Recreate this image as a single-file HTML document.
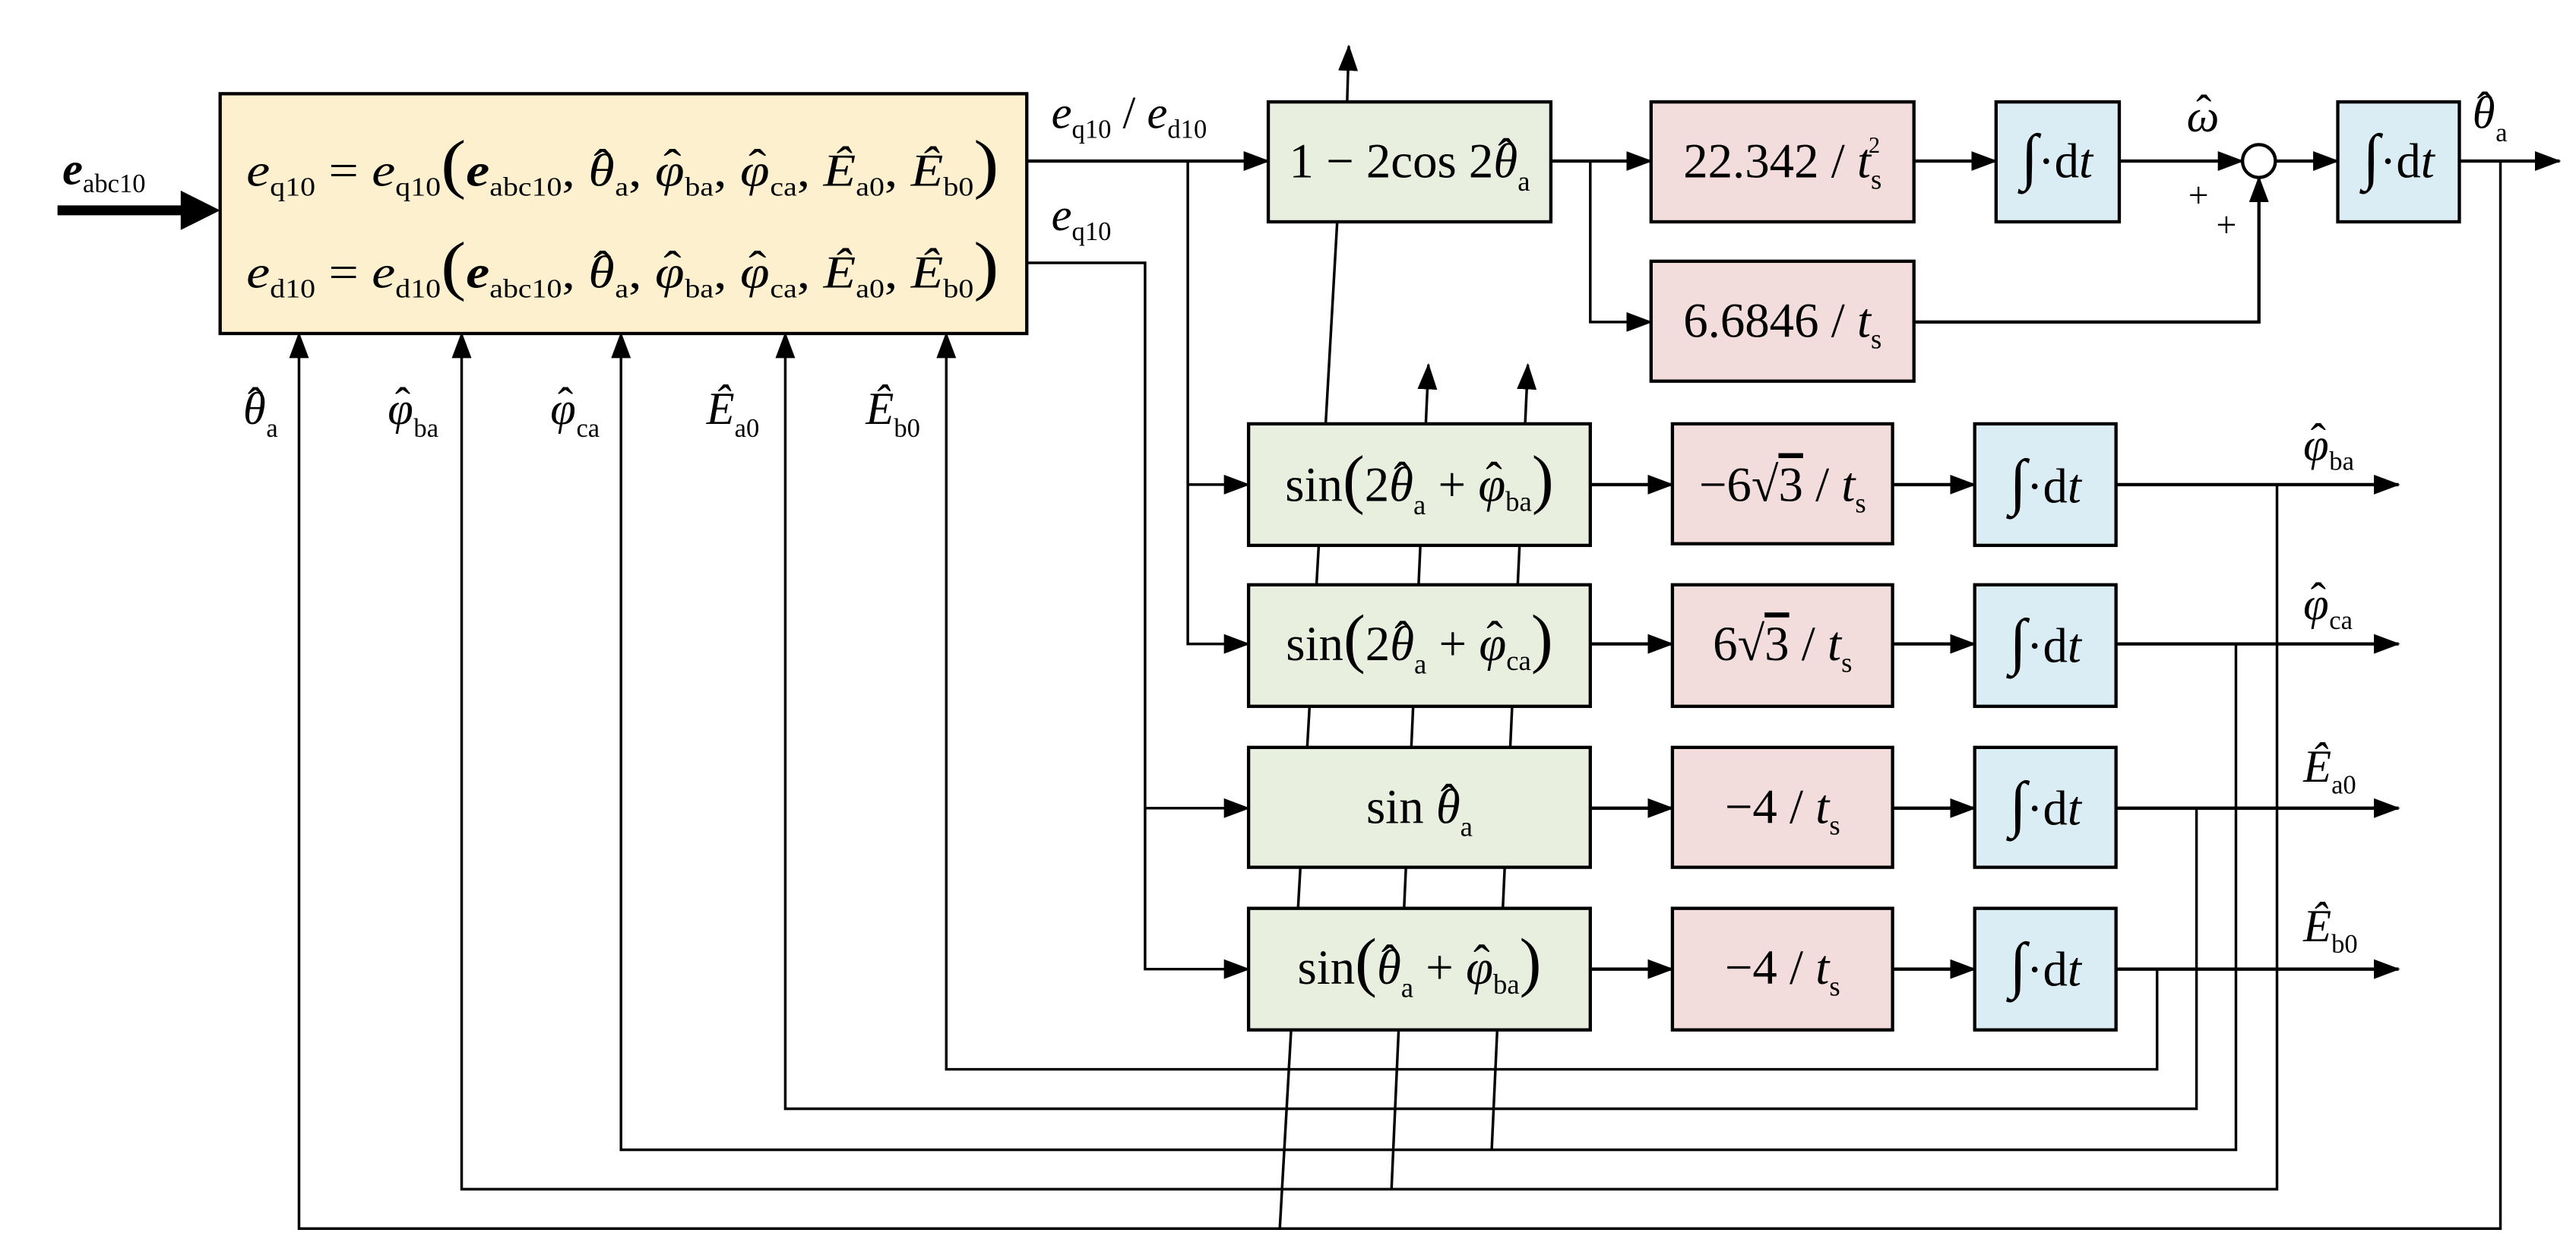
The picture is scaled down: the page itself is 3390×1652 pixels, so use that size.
<!DOCTYPE html>
<html><head><meta charset="utf-8"><style>
html,body{margin:0;padding:0;background:#fff;}
svg{display:block;}
text{font-family:"Liberation Serif",serif;fill:#000;}
.i{font-style:italic;}
</style></head><body>
<svg width="3390" height="1652" viewBox="0 0 1568 764" xmlns="http://www.w3.org/2000/svg">
<defs>
<marker id="a" markerWidth="16" markerHeight="12" refX="15" refY="6" orient="auto" markerUnits="userSpaceOnUse">
<path d="M0,0 L16,6 L0,12 Z" fill="#000"/></marker>
</defs>
<g stroke="#000" fill="none" stroke-width="1.6">
<line x1="35" y1="128" x2="112" y2="128" stroke-width="6"/>
<path d="M110,116 L134,128 L110,140 Z" fill="#000" stroke="none"/>
<line x1="625" y1="98" x2="772" y2="98" stroke-width="2" marker-end="url(#a)"/>
<polyline points="625,160 697,160 697,590 760,590" marker-end="url(#a)"/>
<line x1="697" y1="492" x2="760" y2="492" marker-end="url(#a)"/>
<polyline points="723,98 723,392 760,392" marker-end="url(#a)"/>
<line x1="723" y1="295" x2="760" y2="295" marker-end="url(#a)"/>
<line x1="944" y1="98" x2="1005" y2="98" stroke-width="2" marker-end="url(#a)"/>
<polyline points="968,98 968,196 1005,196" marker-end="url(#a)"/>
<line x1="1165" y1="98" x2="1215" y2="98" stroke-width="2" marker-end="url(#a)"/>
<line x1="1290" y1="98" x2="1365" y2="98" stroke-width="2" marker-end="url(#a)"/>
<polyline points="1165,196 1375,196 1375,108" stroke-width="2" marker-end="url(#a)"/>
<circle cx="1375" cy="98" r="10" fill="#fff" stroke-width="2"/>
<line x1="1385" y1="98" x2="1423" y2="98" stroke-width="2" marker-end="url(#a)"/>
<line x1="1497" y1="98" x2="1558" y2="98" stroke-width="2" marker-end="url(#a)"/>
<polyline points="1522,98 1522,748 182,748 182,203" marker-end="url(#a)"/>
<polyline points="1386,295 1386,724 281,724 281,203" marker-end="url(#a)"/>
<polyline points="1361,392 1361,700 378,700 378,203" marker-end="url(#a)"/>
<polyline points="1337,492 1337,675 478,675 478,203" marker-end="url(#a)"/>
<polyline points="1313,590 1313,651 576,651 576,203" marker-end="url(#a)"/>
<line x1="779" y1="748" x2="814" y2="134"/>
<line x1="847" y1="724" x2="869.5" y2="222" marker-end="url(#a)"/>
<line x1="908" y1="700" x2="930" y2="222" marker-end="url(#a)"/>
<line x1="820" y1="62" x2="821" y2="28" marker-end="url(#a)"/>
<g stroke-width="2">
<line x1="968" y1="295" x2="1018" y2="295" marker-end="url(#a)"/>
<line x1="968" y1="392" x2="1018" y2="392" marker-end="url(#a)"/>
<line x1="968" y1="492" x2="1018" y2="492" marker-end="url(#a)"/>
<line x1="968" y1="590" x2="1018" y2="590" marker-end="url(#a)"/>
<line x1="1152" y1="295" x2="1202" y2="295" marker-end="url(#a)"/>
<line x1="1152" y1="392" x2="1202" y2="392" marker-end="url(#a)"/>
<line x1="1152" y1="492" x2="1202" y2="492" marker-end="url(#a)"/>
<line x1="1152" y1="590" x2="1202" y2="590" marker-end="url(#a)"/>
<line x1="1288" y1="295" x2="1460" y2="295" marker-end="url(#a)"/>
<line x1="1288" y1="392" x2="1460" y2="392" marker-end="url(#a)"/>
<line x1="1288" y1="492" x2="1460" y2="492" marker-end="url(#a)"/>
<line x1="1288" y1="590" x2="1460" y2="590" marker-end="url(#a)"/>
</g>
<g stroke-width="2">
<rect x="134" y="57" width="491" height="146" fill="#fdf0cf"/>
<rect x="772" y="62" width="172" height="73" fill="#e8efdf"/>
<rect x="1005" y="62" width="160" height="73" fill="#f2dcdc"/>
<rect x="1005" y="159" width="160" height="73" fill="#f2dcdc"/>
<rect x="1215" y="62" width="75" height="73" fill="#dbedf4"/>
<rect x="1423" y="62" width="74" height="73" fill="#dbedf4"/>
<rect x="760" y="258" width="208" height="74" fill="#e8efdf"/>
<rect x="760" y="356" width="208" height="74" fill="#e8efdf"/>
<rect x="760" y="455" width="208" height="73" fill="#e8efdf"/>
<rect x="760" y="553" width="208" height="74" fill="#e8efdf"/>
<rect x="1018" y="258" width="134" height="73" fill="#f2dcdc"/>
<rect x="1018" y="356" width="134" height="74" fill="#f2dcdc"/>
<rect x="1018" y="455" width="134" height="73" fill="#f2dcdc"/>
<rect x="1018" y="553" width="134" height="74" fill="#f2dcdc"/>
<rect x="1202" y="258" width="86" height="74" fill="#dbedf4"/>
<rect x="1202" y="356" width="86" height="74" fill="#dbedf4"/>
<rect x="1202" y="455" width="86" height="73" fill="#dbedf4"/>
<rect x="1202" y="553" width="86" height="74" fill="#dbedf4"/>
</g>
</g>
<g font-size="28">
<text x="38" y="112"><tspan class="i" font-weight="bold">e</tspan><tspan font-size="16" dy="5">abc10</tspan></text>
<text x="150" y="113" textLength="458" lengthAdjust="spacingAndGlyphs"><tspan class="i">e</tspan><tspan font-size="16" dy="6">q10</tspan><tspan dy="-6"> = </tspan><tspan class="i">e</tspan><tspan font-size="16" dy="6">q10</tspan><tspan dy="-6" font-size="40">(</tspan><tspan class="i" font-weight="bold">e</tspan><tspan font-size="16" dy="6">abc10</tspan><tspan dy="-6">, </tspan><tspan class="i">θ</tspan><tspan dx="-11" dy="-3">ˆ</tspan><tspan font-size="16" dx="2" dy="9">a</tspan><tspan dy="-6">, </tspan><tspan class="i">φ</tspan><tspan dx="-11" dy="-3">ˆ</tspan><tspan font-size="16" dx="2" dy="9">ba</tspan><tspan dy="-6">, </tspan><tspan class="i">φ</tspan><tspan dx="-11" dy="-3">ˆ</tspan><tspan font-size="16" dx="2" dy="9">ca</tspan><tspan dy="-6">, </tspan><tspan class="i">Ê</tspan><tspan font-size="16" dy="6">a0</tspan><tspan dy="-6">, </tspan><tspan class="i">Ê</tspan><tspan font-size="16" dy="6">b0</tspan><tspan dy="-6" font-size="40">)</tspan></text>
<text x="150" y="175" textLength="458" lengthAdjust="spacingAndGlyphs"><tspan class="i">e</tspan><tspan font-size="16" dy="6">d10</tspan><tspan dy="-6"> = </tspan><tspan class="i">e</tspan><tspan font-size="16" dy="6">d10</tspan><tspan dy="-6" font-size="40">(</tspan><tspan class="i" font-weight="bold">e</tspan><tspan font-size="16" dy="6">abc10</tspan><tspan dy="-6">, </tspan><tspan class="i">θ</tspan><tspan dx="-11" dy="-3">ˆ</tspan><tspan font-size="16" dx="2" dy="9">a</tspan><tspan dy="-6">, </tspan><tspan class="i">φ</tspan><tspan dx="-11" dy="-3">ˆ</tspan><tspan font-size="16" dx="2" dy="9">ba</tspan><tspan dy="-6">, </tspan><tspan class="i">φ</tspan><tspan dx="-11" dy="-3">ˆ</tspan><tspan font-size="16" dx="2" dy="9">ca</tspan><tspan dy="-6">, </tspan><tspan class="i">Ê</tspan><tspan font-size="16" dy="6">a0</tspan><tspan dy="-6">, </tspan><tspan class="i">Ê</tspan><tspan font-size="16" dy="6">b0</tspan><tspan dy="-6" font-size="40">)</tspan></text>
<text x="640" y="78"><tspan class="i">e</tspan><tspan font-size="16" dy="6">q10</tspan><tspan dy="-6"> / </tspan><tspan class="i">e</tspan><tspan font-size="16" dy="6">d10</tspan></text>
<text x="640" y="140"><tspan class="i">e</tspan><tspan font-size="16" dy="6">q10</tspan></text>
<text x="148" y="258"><tspan class="i">θ</tspan><tspan dx="-11" dy="-3">ˆ</tspan><tspan font-size="16" dx="2" dy="11">a</tspan></text>
<text x="236" y="258"><tspan class="i">φ</tspan><tspan dx="-11" dy="-3">ˆ</tspan><tspan font-size="16" dx="2" dy="11">ba</tspan></text>
<text x="335" y="258"><tspan class="i">φ</tspan><tspan dx="-11" dy="-3">ˆ</tspan><tspan font-size="16" dx="2" dy="11">ca</tspan></text>
<text x="430" y="258"><tspan class="i">Ê</tspan><tspan font-size="16" dy="8">a0</tspan></text>
<text x="527" y="258"><tspan class="i">Ê</tspan><tspan font-size="16" dy="8">b0</tspan></text>
<text x="858" y="108" text-anchor="middle" font-size="30">1 − 2cos 2<tspan class="i">θ</tspan><tspan dx="-12" dy="-3">ˆ</tspan><tspan font-size="17" dx="2" dy="11">a</tspan></text>
<text x="1085" y="108" text-anchor="middle" font-size="30">22.342 / <tspan class="i">t</tspan><tspan font-size="17" dy="7">s</tspan><tspan font-size="14" dy="-22" dx="-8">2</tspan></text>
<text x="1085" y="205" text-anchor="middle" font-size="30">6.6846 / <tspan class="i">t</tspan><tspan font-size="17" dy="7">s</tspan></text>
<text x="1252" y="108" text-anchor="middle" font-size="30"><tspan font-size="38">∫</tspan>·d<tspan class="i">t</tspan></text>
<text x="1460" y="108" text-anchor="middle" font-size="30"><tspan font-size="38">∫</tspan>·d<tspan class="i">t</tspan></text>
<text x="1331" y="80"><tspan class="i">ω</tspan><tspan dx="-14" dy="-3">ˆ</tspan></text>
<text x="1332" y="126" font-size="22">+</text>
<text x="1349" y="144" font-size="22">+</text>
<text x="1505" y="78"><tspan class="i">θ</tspan><tspan dx="-11" dy="-3">ˆ</tspan><tspan font-size="16" dx="2" dy="11">a</tspan></text>
<g font-size="30">
<text x="864" y="305" text-anchor="middle">sin<tspan font-size="40">(</tspan>2<tspan class="i">θ</tspan><tspan dx="-12" dy="-3">ˆ</tspan><tspan font-size="17" dx="2" dy="11">a</tspan><tspan dy="-8"> + </tspan><tspan class="i">φ</tspan><tspan dx="-12" dy="-3">ˆ</tspan><tspan font-size="17" dx="2" dy="9">ba</tspan><tspan dy="-6" font-size="40">)</tspan></text>
<text x="864" y="402" text-anchor="middle">sin<tspan font-size="40">(</tspan>2<tspan class="i">θ</tspan><tspan dx="-12" dy="-3">ˆ</tspan><tspan font-size="17" dx="2" dy="11">a</tspan><tspan dy="-8"> + </tspan><tspan class="i">φ</tspan><tspan dx="-12" dy="-3">ˆ</tspan><tspan font-size="17" dx="2" dy="9">ca</tspan><tspan dy="-6" font-size="40">)</tspan></text>
<text x="864" y="501" text-anchor="middle">sin <tspan class="i">θ</tspan><tspan dx="-12" dy="-3">ˆ</tspan><tspan font-size="17" dx="2" dy="11">a</tspan></text>
<text x="864" y="599" text-anchor="middle">sin<tspan font-size="40">(</tspan><tspan class="i">θ</tspan><tspan dx="-12" dy="-3">ˆ</tspan><tspan font-size="17" dx="2" dy="11">a</tspan><tspan dy="-8"> + </tspan><tspan class="i">φ</tspan><tspan dx="-12" dy="-3">ˆ</tspan><tspan font-size="17" dx="2" dy="9">ba</tspan><tspan dy="-6" font-size="40">)</tspan></text>
<text x="1085" y="305" text-anchor="middle">−6√<tspan text-decoration="overline">3</tspan> / <tspan class="i">t</tspan><tspan font-size="17" dy="7">s</tspan></text>
<text x="1085" y="402" text-anchor="middle">6√<tspan text-decoration="overline">3</tspan> / <tspan class="i">t</tspan><tspan font-size="17" dy="7">s</tspan></text>
<text x="1085" y="501" text-anchor="middle">−4 / <tspan class="i">t</tspan><tspan font-size="17" dy="7">s</tspan></text>
<text x="1085" y="599" text-anchor="middle">−4 / <tspan class="i">t</tspan><tspan font-size="17" dy="7">s</tspan></text>
<text x="1245" y="306" text-anchor="middle"><tspan font-size="38">∫</tspan>·d<tspan class="i">t</tspan></text>
<text x="1245" y="403" text-anchor="middle"><tspan font-size="38">∫</tspan>·d<tspan class="i">t</tspan></text>
<text x="1245" y="502" text-anchor="middle"><tspan font-size="38">∫</tspan>·d<tspan class="i">t</tspan></text>
<text x="1245" y="600" text-anchor="middle"><tspan font-size="38">∫</tspan>·d<tspan class="i">t</tspan></text>
</g>
<text x="1402" y="280"><tspan class="i">φ</tspan><tspan dx="-11" dy="-3">ˆ</tspan><tspan font-size="16" dx="2" dy="9">ba</tspan></text>
<text x="1402" y="377"><tspan class="i">φ</tspan><tspan dx="-11" dy="-3">ˆ</tspan><tspan font-size="16" dx="2" dy="9">ca</tspan></text>
<text x="1402" y="476"><tspan class="i">Ê</tspan><tspan font-size="16" dy="7">a0</tspan></text>
<text x="1402" y="573"><tspan class="i">Ê</tspan><tspan font-size="16" dy="7">b0</tspan></text>
</g>
</svg>
</body></html>
